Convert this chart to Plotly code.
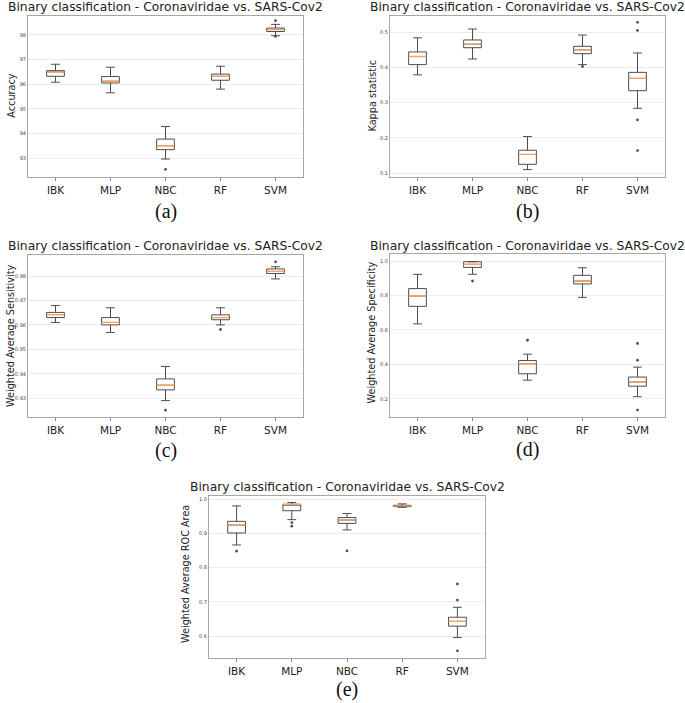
import plotly.graph_objects as go

W, H = 685, 703
categories = ["IBK", "MLP", "NBC", "RF", "SVM"]
title_text = "Binary classification - Coronaviridae vs. SARS-Cov2"

# (a) Accuracy
acc_low = [96.08, 95.65, 92.96, 95.80, 97.97]
acc_q1 = [96.32, 96.05, 93.34, 96.16, 98.14]
acc_med = [96.50, 96.12, 93.50, 96.32, 98.22]
acc_q3 = [96.55, 96.31, 93.77, 96.41, 98.28]
acc_high = [96.81, 96.69, 94.28, 96.73, 98.43]
acc_out_x = ["NBC", "SVM", "SVM"]
acc_out_y = [92.54, 98.58, 97.94]
acc_ticks = [93, 94, 95, 96, 97, 98]

# (b) Kappa statistic
kap_low = [0.379, 0.424, 0.110, 0.408, 0.284]
kap_q1 = [0.408, 0.456, 0.125, 0.439, 0.334]
kap_med = [0.431, 0.466, 0.153, 0.450, 0.369]
kap_q3 = [0.444, 0.478, 0.165, 0.460, 0.386]
kap_high = [0.484, 0.509, 0.204, 0.492, 0.441]
kap_out_x = ["RF", "SVM", "SVM", "SVM", "SVM"]
kap_out_y = [0.403, 0.528, 0.505, 0.251, 0.164]
kap_ticks = [0.1, 0.2, 0.3, 0.4, 0.5]

# (c) Weighted Average Sensitivity
sen_low = [0.9610, 0.9569, 0.9290, 0.9600, 0.9788]
sen_q1 = [0.9630, 0.9600, 0.9334, 0.9621, 0.9810]
sen_med = [0.9642, 0.9610, 0.9353, 0.9630, 0.9819]
sen_q3 = [0.9651, 0.9630, 0.9379, 0.9641, 0.9829]
sen_high = [0.9679, 0.9670, 0.9430, 0.9670, 0.9838]
sen_out_x = ["NBC", "RF", "SVM"]
sen_out_y = [0.9251, 0.9581, 0.9858]
sen_ticks = [0.93, 0.94, 0.95, 0.96, 0.97, 0.98]

# (d) Weighted Average Specificity
spe_low = [0.635, 0.923, 0.308, 0.789, 0.212]
spe_q1 = [0.737, 0.963, 0.345, 0.867, 0.273]
spe_med = [0.797, 0.981, 0.403, 0.884, 0.297]
spe_q3 = [0.840, 0.996, 0.422, 0.917, 0.326]
spe_high = [0.923, 0.996, 0.459, 0.961, 0.384]
spe_out_x = ["MLP", "NBC", "SVM", "SVM", "SVM"]
spe_out_y = [0.884, 0.540, 0.521, 0.424, 0.134]
spe_ticks = [0.2, 0.4, 0.6, 0.8, 1.0]

# (e) Weighted Average ROC Area
roc_low = [0.866, 0.940, 0.910, 0.976, 0.596]
roc_q1 = [0.901, 0.966, 0.929, 0.978, 0.629]
roc_med = [0.924, 0.984, 0.939, 0.980, 0.643]
roc_q3 = [0.935, 0.985, 0.946, 0.982, 0.655]
roc_high = [0.980, 0.990, 0.958, 0.986, 0.684]
roc_out_x = ["IBK", "MLP", "MLP", "NBC", "SVM", "SVM", "SVM"]
roc_out_y = [0.848, 0.931, 0.921, 0.849, 0.752, 0.705, 0.557]
roc_ticks = [0.6, 0.7, 0.8, 0.9, 1.0]

panels = [
    dict(low=acc_low, q1=acc_q1, med=acc_med, q3=acc_q3, high=acc_high,
         ox=acc_out_x, oy=acc_out_y, ticks=acc_ticks, fmt="d", label="Accuracy",
         rng=[92.23, 98.77], box=(28, 303, 16, 177), cap="(a)", cap_y=212, title_y=6.5,
         lab_x=10.7, lab_y=96),
    dict(low=kap_low, q1=kap_q1, med=kap_med, q3=kap_q3, high=kap_high,
         ox=kap_out_x, oy=kap_out_y, ticks=kap_ticks, fmt=".1f", label="Kappa statistic",
         rng=[0.089, 0.546], box=(390, 665, 16, 177), cap="(b)", cap_y=212, title_y=6.5,
         lab_x=371.5, lab_y=96),
    dict(low=sen_low, q1=sen_q1, med=sen_med, q3=sen_q3, high=sen_high,
         ox=sen_out_x, oy=sen_out_y, ticks=sen_ticks, fmt=".2f", label="Weighted Average Sensitivity",
         rng=[0.9223, 0.9886], box=(28, 303, 255, 417), cap="(c)", cap_y=451, title_y=246,
         lab_x=10, lab_y=336),
    dict(low=spe_low, q1=spe_q1, med=spe_med, q3=spe_q3, high=spe_high,
         ox=spe_out_x, oy=spe_out_y, ticks=spe_ticks, fmt=".1f", label="Weighted Average Specificity",
         rng=[0.094, 1.041], box=(390, 665, 254, 417), cap="(d)", cap_y=449, title_y=246,
         lab_x=371.5, lab_y=333),
    dict(low=roc_low, q1=roc_q1, med=roc_med, q3=roc_q3, high=roc_high,
         ox=roc_out_x, oy=roc_out_y, ticks=roc_ticks, fmt=".1f", label="Weighted Average ROC Area",
         rng=[0.536, 1.009], box=(209, 485, 496, 658), cap="(e)", cap_y=689, title_y=487,
         lab_x=185, lab_y=574),
]

BOX_LINE = "#4d4d4d"
MED_COLOR = "#fba25c"
FRAME = "#a6a6a6"
GRID = "#ececec"

fig = go.Figure()
annotations = []
layout_axes = {}

for i, p in enumerate(panels, start=1):
    xa = "x" if i == 1 else f"x{i}"
    ya = "y" if i == 1 else f"y{i}"
    x0, x1, y0, y1 = p["box"]
    fig.add_trace(go.Box(
        x=categories, q1=p["q1"], median=p["med"], q3=p["q3"],
        lowerfence=p["low"], upperfence=p["high"],
        boxpoints=False, fillcolor="white",
        line=dict(color=BOX_LINE, width=1), whiskerwidth=0.5,
        xaxis=xa, yaxis=ya, showlegend=False, hoverinfo="skip"))
    fig.add_trace(go.Box(
        x=categories, q1=p["med"], median=p["med"], q3=p["med"],
        lowerfence=p["med"], upperfence=p["med"],
        boxpoints=False, fillcolor="rgba(0,0,0,0)",
        line=dict(color=MED_COLOR, width=1.3), whiskerwidth=0,
        xaxis=xa, yaxis=ya, showlegend=False, hoverinfo="skip"))
    fig.add_trace(go.Scatter(
        x=p["ox"], y=p["oy"], mode="markers",
        marker=dict(symbol="circle", size=2.8, color="#505050"),
        xaxis=xa, yaxis=ya, showlegend=False, hoverinfo="skip"))

    xkey = "xaxis" if i == 1 else f"xaxis{i}"
    ykey = "yaxis" if i == 1 else f"yaxis{i}"
    layout_axes[xkey] = dict(
        domain=[x0 / W, x1 / W], anchor=ya,
        type="category", categoryorder="array", categoryarray=categories,
        range=[-0.5, 4.5],
        showline=True, linecolor=FRAME, linewidth=1, mirror=True,
        showgrid=False, ticks="outside", ticklen=3, tickcolor="#888888",
        tickfont=dict(family="DejaVu Sans", size=10.5, color="#222222"),
        zeroline=False, fixedrange=True)
    tick_text = [format(t, p["fmt"]) for t in p["ticks"]]
    layout_axes[ykey] = dict(
        domain=[1 - y1 / H, 1 - y0 / H], anchor=xa,
        range=p["rng"], tickvals=p["ticks"], ticktext=tick_text,
        showline=True, linecolor=FRAME, linewidth=1, mirror=True,
        showgrid=True, gridcolor=GRID, gridwidth=1,
        ticks="", tickfont=dict(family="DejaVu Sans", size=5, color="#444444"),
        zeroline=False, fixedrange=True)

    # y-axis label
    annotations.append(dict(
        text=p["label"], xref="paper", yref="paper", textangle=-90,
        x=p["lab_x"] / W, y=1 - p["lab_y"] / H,
        xanchor="center", yanchor="middle", showarrow=False, borderpad=0,
        font=dict(family="DejaVu Sans", size=9.7, color="#222222")))
    # panel title
    annotations.append(dict(
        text=title_text, xref="paper", yref="paper",
        x=(x0 + x1) / 2 / W, y=1 - p["title_y"] / H,
        xanchor="center", yanchor="middle", showarrow=False, borderpad=0,
        font=dict(family="DejaVu Sans", size=12.3, color="#222222")))
    # sub-figure caption
    annotations.append(dict(
        text=p["cap"], xref="paper", yref="paper",
        x=(x0 + x1) / 2 / W, y=1 - p["cap_y"] / H,
        xanchor="center", yanchor="middle", showarrow=False, borderpad=0,
        font=dict(family="Liberation Serif", size=20, color="#111111")))

fig.update_layout(
    width=W, height=H, margin=dict(l=0, r=0, t=0, b=0),
    paper_bgcolor="white", plot_bgcolor="white",
    boxmode="overlay", boxgap=0.54,
    annotations=annotations, showlegend=False,
    **layout_axes)

fig.write_html("out.html", config=dict(displayModeBar=False),
               post_script="document.body.style.margin='0px';")
